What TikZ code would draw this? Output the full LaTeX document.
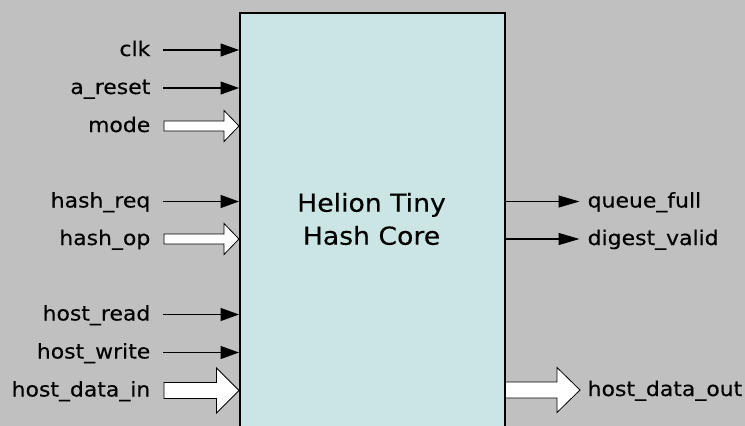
\documentclass[tikz,border=0pt]{standalone}
\usepackage{fontspec}
\usetikzlibrary{arrows.meta,calc}
\newfontfamily\lblfont{DejaVu Sans}[FakeStretch=1.08,FakeBold=0.3]
\newfontfamily\ttlfont{DejaVu Sans}[FakeStretch=1.08,FakeBold=0.3]
\definecolor{bgcol}{HTML}{C0C0C0}
\definecolor{corecol}{HTML}{CBE5E5}
\newcommand{\hollowin}[5]{%
  \coordinate (#1tip) at (#2 -| core.west);
  \coordinate (#1t0) at ($(#1.base east)+(13.5,0)$);
  \coordinate (#1tail) at (#1t0 |- #1tip);
  \draw[fatarrow] ($(#1tail)+(0,-#4)$) -- ($(#1tip)+(-#3,-#4)$) -- ($(#1tip)+(-#3,-#5)$) -- (#1tip) -- ($(#1tip)+(-#3,#5)$) -- ($(#1tip)+(-#3,#4)$) -- ($(#1tail)+(0,#4)$) -- cycle;}
\begin{document}
\begin{tikzpicture}[x=1pt,y=-1pt,
  lbl/.style={font=\lblfont\fontsize{20.3}{24}\selectfont, inner sep=0pt, text=black},
  thinin/.style={line width=1.3pt, -{Triangle[length=18.5pt,width=13pt]}},
  thinout/.style={line width=1.3pt, -{Triangle[length=21pt,width=12pt]}},
  fatarrow/.style={fill=white, draw=black, line width=0.8pt, line join=miter}]
\useasboundingbox (0,0) rectangle (745,426);
\clip (0,0) rectangle (745,426);
\fill[bgcol] (0,0) rectangle (745,426);
\node[draw, line width=1.5pt, fill=corecol, minimum width=265pt, minimum height=440pt, anchor=north west, inner sep=0pt] (core) at (239,12) {};
\node[font=\ttlfont\fontsize{24.7}{33}\selectfont, align=center, inner sep=0pt] (title) at (371.5,219) {Helion Tiny\\Hash Core};
% arrow levels
\coordinate (yclk) at (0,50);
\coordinate (yarst) at (0,88);
\coordinate (ymode) at (0,126);
\coordinate (yhreq) at (0,201.5);
\coordinate (yhop) at (0,239);
\coordinate (yhrd) at (0,314.5);
\coordinate (yhwr) at (0,352.5);
\coordinate (yhdin) at (0,390.5);
\coordinate (yqf) at (0,201.5);
\coordinate (ydv) at (0,239);
\coordinate (yhdout) at (0,390);
% input labels
\node[lbl, anchor=base east] (clk) at (150.5,56) {clk};
\node[lbl, anchor=base east] (arst) at (150.5,94) {a\_reset};
\node[lbl, anchor=base east] (mode) at (150.5,132) {mode};
\node[lbl, anchor=base east] (hreq) at (150.5,207.5) {hash\_req};
\node[lbl, anchor=base east] (hop) at (150.5,245) {hash\_op};
\node[lbl, anchor=base east] (hrd) at (150.5,320.5) {host\_read};
\node[lbl, anchor=base east] (hwr) at (150.5,358.5) {host\_write};
\node[lbl, anchor=base east] (hdin) at (150.5,396.5) {host\_data\_in};
% output labels
\node[lbl, anchor=base west] (qf) at (587.5,207.5) {queue\_full};
\node[lbl, anchor=base west] (dv) at (587.5,245) {digest\_valid};
\node[lbl, anchor=base west] (hdout) at (587.5,396) {host\_data\_out};
% thin inputs
\foreach \n in {clk,arst,hreq,hrd,hwr}{
  \coordinate (s\n) at ($(\n.base east)+(12.5,0)$);
  \draw[thinin] (s\n |- y\n) -- (y\n -| core.west);}
% hollow inputs
\hollowin{mode}{ymode}{15}{5}{15.5}
\hollowin{hop}{yhop}{15}{5}{15.5}
\hollowin{hdin}{yhdin}{22.5}{8}{22.5}
% thin outputs
\foreach \n in {qf,dv}{
  \coordinate (e\n) at ($(\n.base west)+(-8,0)$);
  \draw[thinout] (y\n -| core.east) -- (e\n |- y\n);}
% hollow output
\coordinate (hdouttail) at (yhdout -| core.east);
\coordinate (hdt0) at ($(hdout.base west)+(-7.5,0)$);
\coordinate (hdouttip) at (hdt0 |- yhdout);
\draw[fatarrow] ($(hdouttail)+(0,-8)$) -- ($(hdouttip)+(-23,-8)$) -- ($(hdouttip)+(-23,-22.5)$) -- (hdouttip) -- ($(hdouttip)+(-23,22.5)$) -- ($(hdouttip)+(-23,8)$) -- ($(hdouttail)+(0,8)$) -- cycle;
\end{tikzpicture}
\end{document}
